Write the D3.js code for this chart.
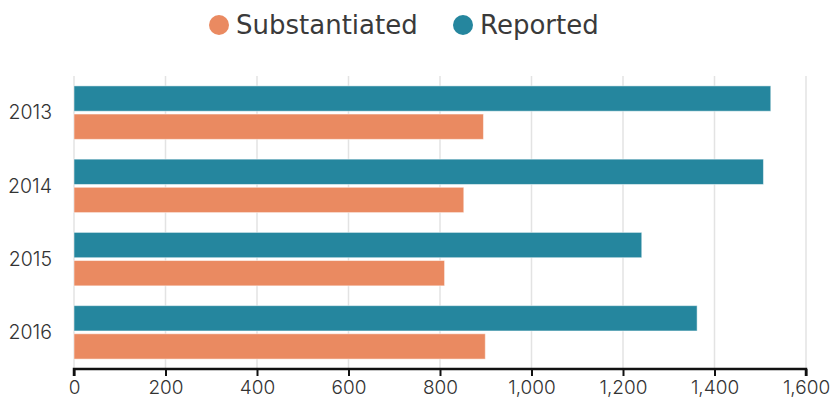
<!DOCTYPE html>
<html>
<head>
<meta charset="utf-8">
<script src="https://cdn.jsdelivr.net/npm/d3@7"></script>
<style>
  body { margin: 0; background: #fff; }
  svg { display: block; }
  .tick text { font-family: Inter, "Open Sans", sans-serif; }
</style>
</head>
<body>
<svg width="831" height="404"></svg>
<script>
// Data
let years = ["2013", "2014", "2015", "2016"];
let reported = [1523, 1507, 1241, 1362];
let substantiated = [895, 852, 810, 899];
let seriesNames = ["Reported", "Substantiated"];
let legendNames = ["Substantiated", "Reported"];
let xTicks = [0, 200, 400, 600, 800, 1000, 1200, 1400, 1600];

let colors = { "Reported": "#25869e", "Substantiated": "#ea8a61" };

let svg = d3.select("svg"),
    width = +svg.attr("width"),
    height = +svg.attr("height");

let margin = { top: 76, right: 25, bottom: 35, left: 74 };

let x = d3.scaleLinear()
    .domain([0, 1600])
    .range([margin.left, 806]);

let y = d3.scaleBand()
    .domain(years)
    .range([margin.top, 369])
    .paddingInner(0.27)
    .paddingOuter(0.135);

let yInner = d3.scaleBand()
    .domain(seriesNames)
    .range([0, y.bandwidth()])
    .paddingInner(0.1);

let rows = years.map((yr, i) => ({
  year: yr,
  values: [
    { key: "Reported", value: reported[i] },
    { key: "Substantiated", value: substantiated[i] }
  ]
}));

// Gridlines
svg.append("g")
  .selectAll("line")
  .data(xTicks)
  .join("line")
    .attr("x1", d => x(d))
    .attr("x2", d => x(d))
    .attr("y1", margin.top)
    .attr("y2", 369)
    .attr("stroke", "#e3e3e3")
    .attr("stroke-width", 1.5);

// Bars
let group = svg.append("g")
  .selectAll("g")
  .data(rows)
  .join("g")
    .attr("transform", d => `translate(0,${y(d.year)})`);

group.selectAll("rect")
  .data(d => d.values)
  .join("rect")
    .attr("x", x(0))
    .attr("y", d => yInner(d.key))
    .attr("width", d => x(d.value) - x(0))
    .attr("height", yInner.bandwidth())
    .attr("fill", d => colors[d.key])
    .attr("stroke", "#ffffff")
    .attr("stroke-opacity", 0.5)
    .attr("stroke-width", 1);

// Year labels
svg.append("g")
  .selectAll("text")
  .data(years)
  .join("text")
    .attr("x", 52)
    .attr("y", d => y(d) + y.bandwidth() / 2)
    .attr("dy", "0.35em")
    .attr("text-anchor", "end")
    .attr("font-family", "Inter, 'Open Sans', sans-serif")
    .attr("font-size", 19.5)
    .attr("font-weight", 300)
    .attr("fill", "#333")
    .text(d => d);

// X axis
let xAxis = svg.append("g")
  .attr("transform", "translate(0,369)")
  .call(d3.axisBottom(x)
    .tickValues(xTicks)
    .tickSize(7)
    .tickPadding(5)
    .tickFormat(d3.format(",")));

xAxis.select(".domain")
  .attr("stroke", "#111")
  .attr("stroke-width", 2.5)
  .attr("d", `M${x(0)},7V0H${x(1600)}V7`);
xAxis.selectAll(".tick line")
  .attr("stroke", "#111")
  .attr("stroke-width", 2);
xAxis.selectAll(".tick text")
  .attr("font-size", 19)
  .attr("font-weight", 300)
  .attr("fill", "#333");

// Legend
let legendX = [219, 463];
let legend = svg.append("g")
  .selectAll("g")
  .data(legendNames)
  .join("g")
    .attr("transform", (d, i) => `translate(${legendX[i]},25)`);

legend.append("circle")
    .attr("r", 10)
    .attr("fill", d => colors[d]);

legend.append("text")
    .attr("x", 17)
    .attr("dy", "0.35em")
    .attr("font-family", "DejaVu Sans, sans-serif")
    .attr("font-size", 26)
    .attr("fill", "#3a3a3a")
    .text(d => d);
</script>
</body>
</html>
